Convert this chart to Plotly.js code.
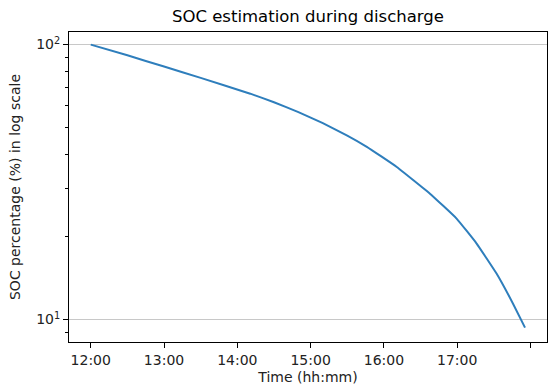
<!DOCTYPE html>
<html>
<head>
<meta charset="utf-8">
<script src="https://cdn.plot.ly/plotly-3.0.1.min.js"></script>
<style>html,body{margin:0;padding:0;background:#fff;}#chart{width:548px;height:385px;}</style>
</head>
<body>
<div id="chart"></div>
<script>
// Time of day (hh:mm:ss) and estimated SOC (%)
var times = ["12:00:00","12:30:00","13:00:00","13:30:00","14:10:36","14:30:00","14:50:00","15:10:00","15:30:00","15:46:00","16:10:30","16:37:42","16:59:30","17:15:54","17:32:12","17:45:48","17:55:30"];
var soc = [100, 91.4, 83.2, 75.7, 66.3, 61.7, 56.8, 51.8, 46.7, 42.5, 35.9, 28.7, 23.3, 18.9, 14.7, 11.4, 9.35];
var xTickLabels = ["12:00","13:00","14:00","15:00","16:00","17:00","18:00"];
var yTickVals = [10, 100];
var yTickText = ["10<sup>1</sup>", "10<sup>2</sup>"];
var yMinorVals = [8, 9, 20, 30, 40, 50, 60, 70, 80, 90];

var day = "2021-01-01 ";
var xs = times.map(function(t){ return day + t; });
var xTickVals = xTickLabels.map(function(t){ return day + t + ":00"; });

var font = "DejaVu Sans, sans-serif";

Plotly.newPlot("chart", [{
  x: xs,
  y: soc,
  type: "scatter",
  mode: "lines",
  line: {color: "#2e7ebc", width: 2, shape: "spline", smoothing: 0.3},
  hoverinfo: "none"
}], {
  width: 548, height: 385,
  margin: {l: 69, r: 1, t: 32, b: 43, pad: 0},
  paper_bgcolor: "#fff",
  plot_bgcolor: "#fff",
  showlegend: false,
  font: {family: font, size: 14, color: "#000"},
  title: {text: "SOC estimation during discharge", font: {family: font, size: 16.5, color: "#000"},
          x: 0.562, xref: "container", xanchor: "center", y: 1 - 16/385, yref: "container", yanchor: "middle"},
  xaxis: {
    type: "date",
    range: [day + "11:42:12", day + "18:13:30"],
    tickmode: "array",
    tickvals: xTickVals,
    ticktext: xTickLabels,
    ticks: "outside", ticklen: 5, tickwidth: 1, tickcolor: "#000",
    showgrid: false, zeroline: false,
    showline: true, mirror: true, linecolor: "#000", linewidth: 1,
    tickfont: {family: font, size: 14, color: "#222"},
    title: {text: "Time (hh:mm)", font: {family: font, size: 14, color: "#222"}, standoff: 6},
    automargin: false
  },
  yaxis: {
    type: "log",
    range: [0.9185, 2.0458],
    tickmode: "array",
    tickvals: yTickVals,
    ticktext: yTickText,
    ticks: "outside", ticklen: 5, tickwidth: 1, tickcolor: "#000",
    showgrid: true, gridcolor: "#c8c8c8", gridwidth: 1,
    zeroline: false,
    showline: true, mirror: true, linecolor: "#000", linewidth: 1,
    tickfont: {family: font, size: 14, color: "#222"},
    minor: {tickmode: "array", tickvals: yMinorVals, ticks: "outside", ticklen: 3, tickwidth: 1, tickcolor: "#000", showgrid: false},
    title: {text: "SOC percentage (%) in log scale", font: {family: font, size: 14, color: "#222"}, standoff: 12},
    automargin: false
  }
}, {staticPlot: true});
</script>
</body>
</html>
